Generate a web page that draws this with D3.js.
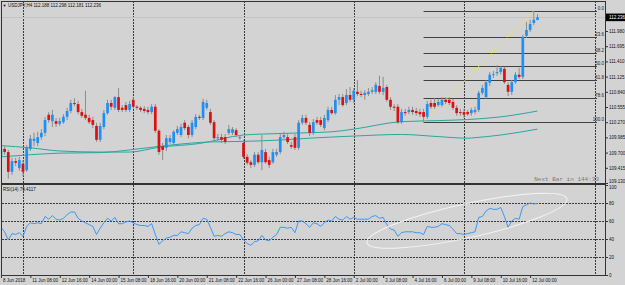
<!DOCTYPE html>
<html>
<head>
<meta charset="utf-8">
<script src="https://cdn.jsdelivr.net/npm/d3@7"></script>
<style>
  html, body { margin: 0; padding: 0; background: #d3d3d3; }
  svg { display: block; }
  text { font-family: "Liberation Sans", Arial, sans-serif; }
</style>
</head>
<body>
<div id="chart"></div>
<script>
const symbolTitle = "USDJPY,H4 112.188 112.298 112.181 112.236";
const rsiTitle = "RSI(14) 79.4117";
const nextBarText = "Next Bar in 144:33";

// H4 candles, 8 Jun 2018 00:00 .. 12 Jul 2018 08:00
const opens = [
  109.64,109.77,109.71,109.34,109.54,109.41,109.49,109.37,109.77,109.92,
  109.88,109.99,110.07,110.41,110.29,110.29,110.24,110.27,110.37,110.48,
  110.63,110.61,110.46,110.41,110.35,110.31,110.20,109.94,110.18,110.44,
  110.63,110.54,110.74,110.54,110.59,110.50,110.69,110.56,110.54,110.52,
  110.50,110.46,110.56,110.11,109.82,109.79,109.90,109.88,110.07,110.03,
  110.26,110.18,110.03,110.18,110.37,110.35,110.54,110.46,110.27,109.97,
  109.99,109.99,110.07,110.07,110.12,109.97,109.88,109.62,109.52,109.47,
  109.66,109.52,109.71,109.56,109.52,109.66,109.71,109.99,109.99,109.84,
  109.99,109.79,110.26,110.35,110.22,110.07,110.31,110.31,110.16,110.31,
  110.50,110.44,110.69,110.74,110.63,110.78,110.69,110.84,110.80,110.78,
  110.80,110.84,110.84,110.95,110.84,110.93,110.69,110.56,110.56,110.27,
  110.46,110.46,110.50,110.48,110.46,110.46,110.37,110.63,110.63,110.59,
  110.59,110.69,110.69,110.65,110.54,110.46,110.46,110.46,110.44,110.46,
  110.50,110.82,110.74,111.01,111.16,111.19,111.21,111.27,110.97,110.84,
  111.02,111.16,111.12,111.89,112.00,112.13,112.188
];
const highs = [
  109.82,109.82,109.75,109.60,109.60,109.62,109.56,109.84,110.03,110.07,
  110.09,110.14,110.37,110.46,110.50,110.35,110.35,110.42,110.54,110.69,
  110.72,110.67,110.52,110.86,110.41,110.37,110.26,110.26,110.50,110.69,
  110.69,110.76,110.91,110.59,110.65,110.67,110.74,110.59,110.57,110.57,
  110.56,110.61,110.61,110.14,109.88,110.03,110.03,110.12,110.20,110.24,
  110.31,110.22,110.31,110.42,110.41,110.71,110.69,110.52,110.31,110.05,
  110.05,110.05,110.22,110.18,110.16,110.03,109.94,109.67,109.56,109.71,
  109.71,110.03,109.77,109.62,109.77,109.77,110.05,110.09,110.05,109.90,
  110.05,110.31,110.41,110.41,110.27,110.33,110.37,110.37,110.41,110.56,
  110.56,110.78,110.80,110.80,110.89,110.93,110.91,111.06,110.86,110.87,
  110.91,110.93,111.02,111.14,111.12,110.97,110.74,110.61,110.61,110.52,
  110.52,110.56,110.56,110.54,110.52,110.52,110.67,110.69,110.72,110.71,
  110.74,110.74,110.74,110.71,110.59,110.52,110.52,110.50,110.54,110.56,
  110.86,110.97,111.06,111.21,111.23,111.34,111.32,111.31,111.02,111.06,
  111.21,111.29,111.91,112.15,112.19,112.36,112.298
];
const lows = [
  109.60,109.66,109.21,109.28,109.45,109.36,109.26,109.34,109.73,109.82,
  109.82,109.94,110.01,110.26,110.18,110.18,110.20,110.24,110.31,110.44,
  110.57,110.42,110.35,110.31,110.24,110.16,109.90,109.90,110.14,110.41,
  110.50,110.50,110.46,110.46,110.46,110.46,110.52,110.50,110.46,110.44,
  110.42,110.42,110.07,109.66,109.56,109.73,109.86,109.84,110.03,109.99,
  110.12,109.97,109.99,110.14,110.31,110.31,110.50,110.22,109.94,109.92,
  109.88,109.86,110.03,110.03,109.99,109.94,109.58,109.47,109.41,109.43,
  109.49,109.37,109.49,109.41,109.49,109.62,109.67,109.96,109.86,109.77,
  109.75,109.75,110.22,110.22,110.01,110.03,110.22,110.18,110.12,110.27,
  110.41,110.41,110.59,110.56,110.59,110.65,110.63,110.76,110.74,110.69,
  110.76,110.80,110.80,110.80,110.78,110.65,110.50,110.48,110.24,110.24,
  110.39,110.42,110.41,110.39,110.37,110.27,110.33,110.52,110.52,110.56,
  110.56,110.61,110.59,110.50,110.39,110.39,110.35,110.39,110.39,110.42,
  110.46,110.78,110.71,110.95,111.10,111.14,111.16,110.99,110.76,110.78,
  110.99,111.08,111.08,111.85,111.96,112.09,112.181
];
const closes = [
  109.77,109.71,109.34,109.54,109.51,109.56,109.34,109.79,109.96,109.96,
  109.99,110.07,110.31,110.31,110.41,110.24,110.29,110.37,110.48,110.63,
  110.61,110.46,110.39,110.35,110.27,110.22,109.94,110.20,110.44,110.63,
  110.56,110.74,110.50,110.50,110.50,110.61,110.56,110.54,110.50,110.48,
  110.46,110.56,110.11,109.71,109.75,109.97,109.97,110.09,110.14,110.18,
  110.16,110.03,110.26,110.37,110.35,110.65,110.63,110.26,109.97,109.99,
  109.94,109.90,110.14,110.14,110.03,109.99,109.62,109.51,109.47,109.66,
  109.52,109.75,109.52,109.47,109.71,109.71,109.99,110.03,109.90,109.81,
  109.79,110.26,110.35,110.26,110.07,110.27,110.26,110.22,110.35,110.50,
  110.44,110.69,110.74,110.59,110.78,110.69,110.86,110.80,110.78,110.82,
  110.84,110.87,110.97,110.84,110.91,110.69,110.56,110.54,110.27,110.46,
  110.44,110.50,110.46,110.44,110.42,110.37,110.61,110.56,110.56,110.65,
  110.69,110.65,110.63,110.54,110.44,110.44,110.41,110.42,110.50,110.50,
  110.82,110.91,111.02,111.16,111.17,111.21,111.29,111.02,110.84,111.02,
  111.16,111.12,111.87,112.00,112.11,112.19,112.236
];

const rsi = [
  53,48,39,46,45,47,43,54,58,57,
  58,57,65,62,66,62,61,63,67,70,
  70,63,60,58,56,54,45,52,58,63,
  60,64,57,57,59,60,58,56,55,55,
  54,57,45,34,38,41,42,44,44,48,
  47,46,52,55,56,63,62,53,43,44,
  43,46,48,47,45,45,39,35,33,37,
  38,44,39,38,42,45,53,53,52,53,
  47,60,60,57,53,58,57,54,58,61,
  60,65,62,61,65,62,64,62,62,62,
  62,65,66,63,64,56,51,50,43,47,
  48,48,48,47,47,45,54,53,53,54,
  57,56,55,51,46,46,45,46,47,48,
  64,65,71,74,73,73,75,65,53,60,
  63,62,76,78,80,79,79.4117
];

// moving averages: [bar, price]
const maFast = [
  [0,109.83],[8,109.79],[16,109.73],[27,109.71],[35,109.71],[43,109.80],
  [54,109.87],[66,110.03],[77,110.06],[90,110.09],[96,110.14],[109,110.28],
  [119,110.30],[127,110.32],[136,110.37],[146,110.48]
];
const maSlow = [
  [0,109.62],[8,109.66],[16,109.69],[27,109.70],[35,109.75],[46,109.84],
  [57,109.90],[66,109.91],[77,109.94],[84,109.97],[96,110.01],[109,110.04],
  [119,110.00],[127,109.97],[129,109.98],[136,110.03],[146,110.14]
];

const priceTicks = [111.980,111.695,111.410,111.125,110.840,110.555,110.270,109.985,109.700,109.415,109.130];
const lastPrice = 112.236;
const rsiTicks = [100, 80, 60, 40, 20, 0];
const rsiLevels = [80, 60, 40, 20];

const timeLabels = [
  "8 Jun 2018","11 Jun 08:00","12 Jun 16:00","14 Jun 00:00","15 Jun 08:00",
  "18 Jun 16:00","20 Jun 00:00","21 Jun 08:00","22 Jun 16:00","26 Jun 00:00",
  "27 Jun 08:00","28 Jun 16:00","2 Jul 00:00","3 Jul 08:00","4 Jul 16:00",
  "6 Jul 00:00","9 Jul 08:00","10 Jul 16:00","12 Jul 00:00"
];
const timeLabelBars = [0,8,16,24,32,40,48,56,64,72,80,88,96,104,112,120,128,136,144];
const weekStartBars = [6, 36, 66, 96, 126];

const fibLevels = [0, 23.6, 38.2, 50, 61.8, 78.6, 100];
const fibLabels = ["0.0","23.6","38.2","50.0","61.8","78.6","100.0"];
const fibFrom = { bar: 115, price: 110.27 };
const fibTo = { bar: 145, price: 112.36 };

const ellipseEnds = [{ bar: 99.6, rsi: 36 }, { bar: 154, rsi: 84.5 }];

function drawChart(containerEl) {
  const W = 625, H = 285;
  const left = 2, right = 605;
  const mainTop = 1, mainBottom = 183;
  const rsiTop = 185, rsiBottom = 275;
  const shiftX = 595;
  const barStep = 3.675;
  const n = opens.length;

  const svg = d3.select(containerEl)
    .append("svg")
    .attr("width", W)
    .attr("height", H);

  svg.append("rect").attr("width", W).attr("height", H).attr("fill", "#d3d3d3");

  const x = d3.scaleLinear()
    .domain([0, n - 1])
    .range([0.95, 0.95 + (n - 1) * barStep]);

  const y = d3.scaleLinear()
    .domain([109.13, 112.5425])
    .range([mainBottom, mainTop]);

  const yR = d3.scaleLinear()
    .domain([0, 100])
    .range([rsiBottom, rsiTop]);

  const defs = svg.append("defs");
  defs.append("clipPath").attr("id", "clipMain")
    .append("rect").attr("x", left).attr("y", mainTop)
    .attr("width", right - left).attr("height", mainBottom - mainTop);
  defs.append("clipPath").attr("id", "clipRsi")
    .append("rect").attr("x", left).attr("y", rsiTop)
    .attr("width", right - left).attr("height", rsiBottom - rsiTop);

  const gMain = svg.append("g").attr("clip-path", "url(#clipMain)");
  const gRsi = svg.append("g").attr("clip-path", "url(#clipRsi)");

  // grid
  const dotted = (sel) => sel
    .attr("stroke", "#3a3a3a")
    .attr("stroke-width", 1)
    .attr("stroke-dasharray", "1.5,1.5")
    .attr("shape-rendering", "crispEdges");

  [[gMain, mainTop, mainBottom], [gRsi, rsiTop, rsiBottom]].forEach(([g, t, b]) => {
    g.selectAll(".vgrid")
      .data(weekStartBars)
      .join("line")
      .attr("class", "vgrid")
      .attr("x1", d => Math.round(x(d)) + 0.5)
      .attr("x2", d => Math.round(x(d)) + 0.5)
      .attr("y1", t)
      .attr("y2", b)
      .call(dotted);
    g.append("line")
      .attr("x1", shiftX + 0.5).attr("x2", shiftX + 0.5)
      .attr("y1", t).attr("y2", b)
      .call(dotted);
  });

  gRsi.selectAll(".hgrid")
    .data(rsiLevels)
    .join("line")
    .attr("class", "hgrid")
    .attr("x1", left)
    .attr("x2", right)
    .attr("y1", d => Math.round(yR(d)) + 0.5)
    .attr("y2", d => Math.round(yR(d)) + 0.5)
    .call(dotted);

  // bid line
  gMain.append("line")
    .attr("x1", left).attr("x2", right)
    .attr("y1", Math.round(y(lastPrice)) + 0.5)
    .attr("y2", Math.round(y(lastPrice)) + 0.5)
    .attr("stroke", "#c3c3c3");

  // moving averages
  const maLine = d3.line()
    .x(d => x(d[0]))
    .y(d => y(d[1]))
    .curve(d3.curveMonotoneX);

  [maFast, maSlow].forEach(ma => {
    gMain.append("path")
      .datum(ma)
      .attr("d", maLine)
      .attr("fill", "none")
      .attr("stroke", "#2aa6a0")
      .attr("stroke-width", 1);
  });

  // fibonacci
  const fibRange = fibTo.price - fibFrom.price;
  const fibPrice = (lvl) => fibTo.price - fibRange * lvl / 100;

  gMain.selectAll(".fib")
    .data(fibLevels)
    .join("line")
    .attr("class", "fib")
    .attr("x1", x(fibFrom.bar))
    .attr("x2", shiftX + 2)
    .attr("y1", d => Math.round(y(fibPrice(d))) + 0.5)
    .attr("y2", d => Math.round(y(fibPrice(d))) + 0.5)
    .attr("stroke", "#404040")
    .attr("stroke-width", 1);

  gMain.append("line")
    .attr("x1", x(fibFrom.bar))
    .attr("y1", y(fibFrom.price))
    .attr("x2", x(fibTo.bar))
    .attr("y2", y(fibTo.price))
    .attr("stroke", "#f0e43a")
    .attr("stroke-width", 0.9)
    .attr("stroke-dasharray", "1.5,1");

  svg.selectAll(".fib-label")
    .data(fibLevels)
    .join("text")
    .attr("class", "fib-label")
    .attr("x", right - 1)
    .attr("y", d => y(fibPrice(d)) - 1)
    .attr("text-anchor", "end")
    .attr("fill", "#222")
    .style("font-size", "4.5px")
    .text((d, i) => fibLabels[i]);

  // candles
  const idx = d3.range(n);
  gMain.selectAll(".wick")
    .data(idx)
    .join("line")
    .attr("class", "wick")
    .attr("x1", i => x(i))
    .attr("x2", i => x(i))
    .attr("y1", i => y(highs[i]))
    .attr("y2", i => y(lows[i]))
    .attr("stroke", "#8c8c8c")
    .attr("stroke-width", 1);

  gMain.selectAll(".body")
    .data(idx)
    .join("rect")
    .attr("class", "body")
    .attr("x", i => x(i) - 1.35)
    .attr("width", 2.7)
    .attr("y", i => y(Math.max(opens[i], closes[i])))
    .attr("height", i => Math.max(0.9, Math.abs(y(opens[i]) - y(closes[i]))))
    .attr("fill", i => closes[i] >= opens[i] ? "#1e8ff5" : "#dc1010");

  // rsi
  const rsiLine = d3.line()
    .x((d, i) => x(i))
    .y(d => yR(d));

  gRsi.append("path")
    .datum(rsi)
    .attr("d", rsiLine)
    .attr("fill", "none")
    .attr("stroke", "#3d97f5")
    .attr("stroke-width", 1);

  const e0 = [x(ellipseEnds[0].bar), yR(ellipseEnds[0].rsi)];
  const e1 = [x(ellipseEnds[1].bar), yR(ellipseEnds[1].rsi)];
  const ang = Math.atan2(e1[1] - e0[1], e1[0] - e0[0]) * 180 / Math.PI;
  gRsi.append("ellipse")
    .attr("cx", 0)
    .attr("cy", 0)
    .attr("rx", Math.hypot(e1[0] - e0[0], e1[1] - e0[1]) / 2)
    .attr("ry", 17)
    .attr("transform", `translate(${(e0[0] + e1[0]) / 2},${(e0[1] + e1[1]) / 2}) rotate(${ang})`)
    .attr("fill", "none")
    .attr("stroke", "#f4f4f4")
    .attr("stroke-width", 1);

  // frames
  const frame = svg.append("g")
    .attr("fill", "none")
    .attr("stroke", "#333")
    .attr("shape-rendering", "crispEdges");
  frame.append("line").attr("x1", left).attr("x2", right).attr("y1", 1.5).attr("y2", 1.5);
  frame.append("line").attr("x1", 1.5).attr("x2", 1.5).attr("y1", 1).attr("y2", rsiBottom);
  frame.append("rect")
    .attr("x", left).attr("y", mainBottom)
    .attr("width", right - left).attr("height", 1.5)
    .attr("fill", "#333").attr("stroke", "none");
  frame.append("line").attr("x1", left).attr("x2", right).attr("y1", rsiBottom + 0.5).attr("y2", rsiBottom + 0.5);
  frame.append("line").attr("x1", right + 0.5).attr("x2", right + 0.5).attr("y1", 1).attr("y2", rsiBottom + 1);

  // axes
  const styleAxis = (g) => {
    g.select(".domain").remove();
    g.selectAll("line").attr("stroke", "#333");
    g.selectAll("text")
      .attr("fill", "#111")
      .style("font-size", "4.5px")
      .style("font-family", "\"Liberation Sans\", Arial, sans-serif");
  };

  svg.append("g")
    .attr("transform", `translate(${right},0)`)
    .call(d3.axisRight(y).tickValues(priceTicks).tickSize(3).tickPadding(1).tickFormat(d3.format(".3f")))
    .call(styleAxis)
    // keep the bottom price label inside its own window
    .call(g => g.selectAll(".tick text").filter(d => d === 109.130).attr("y", -1.6));

  svg.append("g")
    .attr("transform", `translate(${right},0)`)
    .call(d3.axisRight(yR).tickValues(rsiTicks).tickSize(3).tickPadding(1))
    .call(styleAxis)
    .call(g => g.selectAll(".tick text").filter(d => d === 100).attr("y", 2));

  svg.append("g")
    .attr("transform", `translate(0,${rsiBottom})`)
    .call(d3.axisBottom(x).tickValues(timeLabelBars).tickSize(3).tickPadding(1)
      .tickFormat((d, i) => timeLabels[i]))
    .call(styleAxis)
    .call(g => g.selectAll("text").attr("text-anchor", "start").attr("x", 1.5));

  // last price marker
  const ly = y(lastPrice);
  svg.append("rect")
    .attr("x", right + 1)
    .attr("y", ly - 3.8)
    .attr("width", W - right - 1)
    .attr("height", 7.6)
    .attr("fill", "#000");
  svg.append("text")
    .attr("x", right + 4)
    .attr("y", ly)
    .attr("dy", "0.35em")
    .attr("fill", "#fff")
    .style("font-size", "4.5px")
    .text(d3.format(".3f")(lastPrice));

  // captions
  svg.append("text")
    .attr("x", 2.5)
    .attr("y", 7)
    .attr("fill", "#111")
    .style("font-size", "4px")
    .text("\u25BC");
  svg.append("text")
    .attr("x", 8)
    .attr("y", 7)
    .attr("fill", "#111")
    .style("font-size", "4.5px")
    .text(symbolTitle);

  svg.append("text")
    .attr("x", 3)
    .attr("y", rsiTop + 6)
    .attr("fill", "#111")
    .style("font-size", "4.5px")
    .text(rsiTitle);

  svg.append("text")
    .attr("x", shiftX + 4)
    .attr("y", mainBottom - 2)
    .attr("text-anchor", "end")
    .attr("fill", "#7a7a7a")
    .style("font-size", "6px")
    .style("font-family", "\"Liberation Mono\", \"DejaVu Sans Mono\", monospace")
    .text(nextBarText);
}

drawChart(document.getElementById("chart"));
</script>
</body>
</html>
